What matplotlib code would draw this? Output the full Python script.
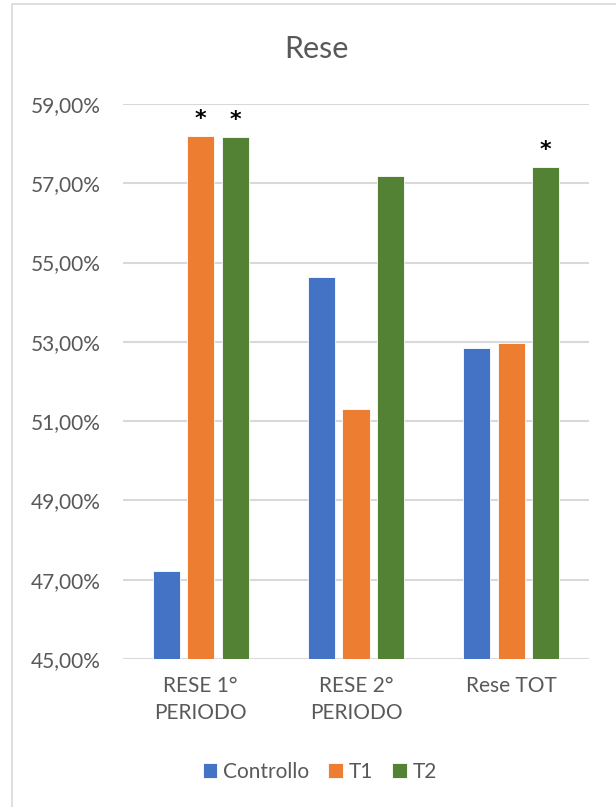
import matplotlib
matplotlib.use("Agg")
import matplotlib.pyplot as plt
import numpy as np
from matplotlib.patches import Rectangle
from matplotlib.ticker import FuncFormatter

plt.rcParams["font.family"] = ["Lato", "DejaVu Sans"]

categories = ["RESE 1°\nPERIODO", "RESE 2°\nPERIODO", "Rese TOT"]
series_names = ["Controllo", "T1", "T2"]
controllo = [47.23, 54.64, 52.84]
t1 = [58.19, 51.31, 52.97]
t2 = [58.17, 57.19, 57.42]
y_ticks = [45, 47, 49, 51, 53, 55, 57, 59]
# significance marks: (category index, series index)
significant = [(0, 1), (0, 2), (2, 2)]

colors = ["#4472C4", "#ED7D31", "#548235"]
text_color = "#595959"
grid_color = "#D9D9D9"

W, H = 616, 807
fig = plt.figure(figsize=(W / 100, H / 100), dpi=100)
fig.patch.set_facecolor("white")

# outer chart frame
fig.patches.append(Rectangle((12 / W, -0.05), 1.1, 1 - 4 / H + 0.05,
                             transform=fig.transFigure, fill=False,
                             edgecolor=grid_color, linewidth=1.2))

left, right, top, bottom = 123, 589, 104, 659
ax = fig.add_axes([left / W, (H - bottom) / H, (right - left) / W, (bottom - top) / H])

x = np.arange(len(categories))
bar_w = 0.174
step = 0.222
all_series = [controllo, t1, t2]
for i, (name, vals) in enumerate(zip(series_names, all_series)):
    ax.bar(x + (i - 1) * step, vals, width=bar_w, color=colors[i],
           edgecolor="white", linewidth=0.6, label=name, zorder=3)

for ci, si in significant:
    ax.annotate("*", xy=(x[ci] + (si - 1) * step, all_series[si][ci]),
                xytext=(0, 12), textcoords="offset points", ha="center",
                va="center", fontsize=16, fontweight="bold", color="black",
                family="DejaVu Sans", annotation_clip=False)

ax.set_ylim(y_ticks[0], y_ticks[-1])
ax.set_xlim(-0.5, len(categories) - 0.5)
ax.set_yticks(y_ticks)
ax.yaxis.set_major_formatter(FuncFormatter(lambda v, p: f"{v:.2f}%".replace(".", ",")))
ax.grid(axis="y", color=grid_color, linewidth=1.5, zorder=0)
ax.set_axisbelow(True)
for s in ax.spines.values():
    s.set_visible(False)
ax.tick_params(axis="both", length=0, colors=text_color, labelsize=15)
ax.tick_params(axis="y", pad=16)
ax.tick_params(axis="x", pad=12)
ax.set_xticks(x)
ax.set_xticklabels(categories, linespacing=1.45)

fig.text(316 / W, 1 - 49 / H, "Rese", ha="center", va="center",
         fontsize=22, color=text_color)

leg = fig.legend(loc="center", bbox_to_anchor=(320 / W, 1 - 772 / H),
                 ncol=3, frameon=False, fontsize=15, handlelength=0.7,
                 handleheight=0.7, handletextpad=0.3, columnspacing=0.9,
                 labelcolor=text_color)

fig.savefig("out.png", dpi=100, facecolor="white")
